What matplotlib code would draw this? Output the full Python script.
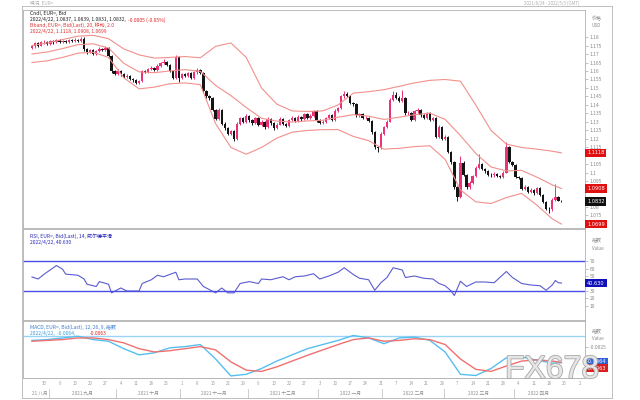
import numpy as np
import pandas as pd
import matplotlib
matplotlib.use("Agg")
import matplotlib.pyplot as plt
import matplotlib.patheffects as pe
from matplotlib.lines import Line2D

plt.rcParams["font.family"] = ["Noto Sans CJK SC", "DejaVu Sans"]

# EUR= daily candles, 2021/8/24 - 2022/4/22 (open = previous close)
first_open = 1.1738
close = [1.1745, 1.1762, 1.1750, 1.1768, 1.1772, 1.1760, 1.1775, 1.1768, 1.1780, 1.1772,
         1.1776, 1.1770, 1.1782, 1.1778, 1.1785, 1.1776, 1.1790, 1.1728, 1.1712, 1.1722,
         1.1700, 1.1716, 1.1732, 1.1725, 1.1738, 1.1690, 1.1598, 1.1585, 1.1602, 1.1580,
         1.1565, 1.1572, 1.1552, 1.1545, 1.1532, 1.1540, 1.1598, 1.1595, 1.1612, 1.1620,
         1.1605, 1.1632, 1.1645, 1.1652, 1.1636, 1.1600, 1.1560, 1.1682, 1.1558, 1.1580,
         1.1572, 1.1588, 1.1560, 1.1592, 1.1605, 1.1590, 1.1482, 1.1450, 1.1442, 1.1370,
         1.1318, 1.1372, 1.1290, 1.1265, 1.1232, 1.1245, 1.1200, 1.1290, 1.1322, 1.1300,
         1.1336, 1.1310, 1.1292, 1.1322, 1.1285, 1.1302, 1.1268, 1.1320, 1.1292, 1.1262,
         1.1285, 1.1320, 1.1290, 1.1275, 1.1312, 1.1326, 1.1305, 1.1332, 1.1315, 1.1346,
         1.1325, 1.1336, 1.1362, 1.1310, 1.1295, 1.1302, 1.1322, 1.1340, 1.1312, 1.1366,
         1.1382, 1.1450, 1.1466, 1.1455, 1.1412, 1.1405, 1.1340, 1.1346, 1.1322, 1.1326,
         1.1305, 1.1240, 1.1150, 1.1145, 1.1232, 1.1270, 1.1302, 1.1432, 1.1456, 1.1442,
         1.1426, 1.1442, 1.1350, 1.1352, 1.1312, 1.1362, 1.1372, 1.1340, 1.1322, 1.1352,
         1.1312, 1.1322, 1.1212, 1.1272, 1.1200, 1.1212, 1.1125, 1.1065, 1.0915, 1.0860,
         1.1060, 1.0990, 1.0915, 1.0942, 1.0982, 1.1030, 1.1052, 1.1022, 1.1010, 1.0990,
         1.0985, 1.0996, 1.0984, 1.0976, 1.1002, 1.1150, 1.1065, 1.1045, 1.0975, 1.0970,
         1.0905, 1.0920, 1.0888, 1.0902, 1.0880, 1.0912, 1.0872, 1.0830, 1.0790, 1.0785,
         1.0842, 1.0856, 1.0837, 1.0832]
high = [1.1755, 1.1770, 1.1768, 1.1775, 1.1780, 1.1778, 1.1782, 1.1780, 1.1788, 1.1786,
        1.1784, 1.1782, 1.1790, 1.1788, 1.1795, 1.1790, 1.1798, 1.1800, 1.1735, 1.1730,
        1.1728, 1.1722, 1.1740, 1.1738, 1.1745, 1.1742, 1.1695, 1.1606, 1.1610, 1.1608,
        1.1588, 1.1580, 1.1578, 1.1560, 1.1552, 1.1548, 1.1605, 1.1608, 1.1620, 1.1628,
        1.1626, 1.1640, 1.1655, 1.1668, 1.1660, 1.1640, 1.1606, 1.1692, 1.1686, 1.1590,
        1.1588, 1.1596, 1.1594, 1.1600, 1.1616, 1.1612, 1.1596, 1.1490, 1.1460, 1.1448,
        1.1378, 1.1382, 1.1378, 1.1298, 1.1272, 1.1255, 1.1250, 1.1298, 1.1330, 1.1332,
        1.1345, 1.1342, 1.1318, 1.1330, 1.1328, 1.1310, 1.1308, 1.1328, 1.1326, 1.1298,
        1.1292, 1.1328, 1.1326, 1.1296, 1.1320, 1.1335, 1.1332, 1.1340, 1.1338, 1.1355,
        1.1352, 1.1345, 1.1370, 1.1368, 1.1316, 1.1310, 1.1330, 1.1348, 1.1346, 1.1374,
        1.1390, 1.1460, 1.1484, 1.1475, 1.1460, 1.1420, 1.1410, 1.1355, 1.1352, 1.1335,
        1.1332, 1.1310, 1.1245, 1.1158, 1.1240, 1.1278, 1.1310, 1.1440, 1.1482, 1.1478,
        1.1450, 1.1490, 1.1448, 1.1362, 1.1358, 1.1370, 1.1380, 1.1378, 1.1348, 1.1360,
        1.1358, 1.1332, 1.1328, 1.1280, 1.1278, 1.1222, 1.1218, 1.1130, 1.1070, 1.0925,
        1.1100, 1.1068, 1.0996, 1.0950, 1.0990, 1.1040, 1.1112, 1.1060, 1.1030, 1.1018,
        1.0998, 1.1005, 1.1002, 1.0990, 1.1010, 1.1180, 1.1156, 1.1072, 1.1050, 1.0982,
        1.0976, 1.0928, 1.0926, 1.0910, 1.0908, 1.0920, 1.0918, 1.0878, 1.0836, 1.0798,
        1.0850, 1.0936, 1.0862, 1.0839]
low = [1.1728, 1.1738, 1.1742, 1.1745, 1.1760, 1.1752, 1.1755, 1.1760, 1.1762, 1.1765,
       1.1766, 1.1762, 1.1765, 1.1770, 1.1772, 1.1770, 1.1772, 1.1720, 1.1702, 1.1705,
       1.1692, 1.1694, 1.1710, 1.1718, 1.1720, 1.1682, 1.1590, 1.1575, 1.1578, 1.1570,
       1.1558, 1.1556, 1.1545, 1.1538, 1.1525, 1.1522, 1.1535, 1.1588, 1.1590, 1.1605,
       1.1598, 1.1600, 1.1625, 1.1640, 1.1628, 1.1592, 1.1552, 1.1555, 1.1535, 1.1550,
       1.1562, 1.1565, 1.1552, 1.1555, 1.1585, 1.1582, 1.1475, 1.1440, 1.1432, 1.1362,
       1.1310, 1.1312, 1.1282, 1.1255, 1.1225, 1.1222, 1.1186, 1.1195, 1.1282, 1.1292,
       1.1295, 1.1302, 1.1284, 1.1286, 1.1278, 1.1278, 1.1260, 1.1262, 1.1285, 1.1252,
       1.1256, 1.1280, 1.1284, 1.1268, 1.1270, 1.1305, 1.1298, 1.1300, 1.1308, 1.1310,
       1.1318, 1.1318, 1.1330, 1.1302, 1.1286, 1.1288, 1.1296, 1.1315, 1.1305, 1.1306,
       1.1360, 1.1376, 1.1442, 1.1446, 1.1405, 1.1396, 1.1332, 1.1330, 1.1315, 1.1315,
       1.1298, 1.1232, 1.1140, 1.1122, 1.1138, 1.1225, 1.1262, 1.1298, 1.1425, 1.1435,
       1.1418, 1.1420, 1.1342, 1.1340, 1.1305, 1.1306, 1.1355, 1.1332, 1.1315, 1.1316,
       1.1305, 1.1306, 1.1205, 1.1206, 1.1192, 1.1195, 1.1118, 1.1055, 1.0905, 1.0835,
       1.0855, 1.0982, 1.0905, 1.0908, 1.0936, 1.0975, 1.1025, 1.1015, 1.1002, 1.0982,
       1.0976, 1.0978, 1.0976, 1.0968, 1.0970, 1.0998, 1.1058, 1.1038, 1.0968, 1.0962,
       1.0898, 1.0898, 1.0880, 1.0880, 1.0872, 1.0875, 1.0865, 1.0822, 1.0780, 1.0762,
       1.0778, 1.0836, 1.0832, 1.0831]

# Bollinger band (20, 2.0) read at every 5th candle
bb_idx = [0, 5, 10, 15, 20, 25, 30, 35, 40, 45, 50, 55, 60, 65, 70, 75, 80, 85,
          90, 95, 100, 105, 110, 115, 120, 125, 130, 135, 140, 145, 150, 155, 160, 165, 170, 173]
bb_upper = [1.1750, 1.1765, 1.1785, 1.1805, 1.1810, 1.1790, 1.1730, 1.1695, 1.1676, 1.1680,
            1.1685, 1.1678, 1.1745, 1.1765, 1.1680, 1.1500, 1.1405, 1.1365, 1.1362, 1.1365,
            1.1400, 1.1470, 1.1478, 1.1490, 1.1510, 1.1530, 1.1545, 1.1550, 1.1540, 1.1400,
            1.1250, 1.1170, 1.1150, 1.1140, 1.1128, 1.1118]
bb_mid = [1.1700, 1.1712, 1.1732, 1.1755, 1.1760, 1.1735, 1.1645, 1.1595, 1.1590, 1.1600,
          1.1608, 1.1598, 1.1515, 1.1455, 1.1385, 1.1322, 1.1305, 1.1300, 1.1306, 1.1310,
          1.1328, 1.1343, 1.1334, 1.1315, 1.1328, 1.1343, 1.1352, 1.1315, 1.1220, 1.1115,
          1.1035, 1.1012, 1.1015, 1.0975, 1.0930, 1.0908]
bb_lower = [1.1650, 1.1660, 1.1680, 1.1705, 1.1710, 1.1680, 1.1560, 1.1495, 1.1505, 1.1525,
            1.1530, 1.1520, 1.1290, 1.1150, 1.1110, 1.1150, 1.1205, 1.1240, 1.1250, 1.1255,
            1.1255, 1.1215, 1.1190, 1.1140, 1.1145, 1.1155, 1.1160, 1.1080, 1.0900, 1.0830,
            1.0820, 1.0855, 1.0880, 1.0810, 1.0730, 1.0699]

# RSI (14)
rsi_idx = [0, 2, 4, 8, 10, 11, 15, 17, 18, 21, 22, 25, 26, 29, 31, 35, 36, 39, 41, 43,
           47, 48, 50, 54, 56, 60, 62, 64, 66, 68, 71, 74, 75, 78, 82, 84, 86, 89, 92, 94,
           97, 100, 102, 105, 107, 110, 112, 114, 116, 118, 121, 122, 125, 128, 131, 133,
           135, 137, 138, 140, 142, 145, 148, 151, 155, 157, 160, 163, 166, 168, 170, 171,
           172, 173]
rsi_val = [48.7, 46, 52.5, 64, 59, 52.5, 51, 46, 39, 36, 42.5, 39, 27.5, 34, 30, 30, 40, 45,
           51, 49, 55, 45, 46, 46, 36, 27.5, 34, 27.5, 27.5, 40, 42.5, 40, 46, 45, 49, 45,
           49, 50, 53, 46, 50, 55, 61, 52, 47, 45, 31, 41, 48, 61, 58, 48, 50, 47, 46, 40,
           37, 30, 24, 43, 36, 42, 42, 41, 56, 48, 40, 38, 37, 31, 38, 44, 41, 40.63]

# MACD (12, 26, 9), read at the same candles as the bands
macd_line = [-0.0010, -0.0008, -0.0004, 0.0000, -0.0008, -0.0012, -0.0030, -0.0045, -0.0040,
             -0.0028, -0.0025, -0.0020, -0.0055, -0.0096, -0.0092, -0.0078, -0.0060, -0.0045,
             -0.0030, -0.0020, -0.0010, 0.0002, -0.0004, -0.0018, -0.0004, -0.0002, -0.0010,
             -0.0038, -0.0092, -0.0095, -0.0078, -0.0052, -0.0050, -0.0058, -0.0065, -0.0064]
macd_signal = [-0.0012, -0.0010, -0.0008, -0.0004, -0.0004, -0.0008, -0.0016, -0.0030, -0.0038,
               -0.0035, -0.0030, -0.0025, -0.0033, -0.0062, -0.0082, -0.0085, -0.0074, -0.0060,
               -0.0046, -0.0033, -0.0020, -0.0008, -0.0004, -0.0012, -0.0010, -0.0006, -0.0008,
               -0.0020, -0.0055, -0.0080, -0.0085, -0.0072, -0.0060, -0.0057, -0.0060, -0.0063]

month_cn = ["一月", "二月", "三月", "四月", "五月", "六月", "七月", "八月", "九月", "十月", "十一月", "十二月"]

UP, DOWN = "#ea3278", "#141414"
BAND = "#f2908c"
GRAY = "#8a8a8a"

W, H = 640, 400
fig = plt.figure(figsize=(6.4, 4.0), dpi=100)


def box(x0, y0, x1, y1):
    return [x0 / W, 1 - y1 / H, (x1 - x0) / W, (y1 - y0) / H]


ax = fig.add_axes(box(23, 10, 585, 228))
ax_rsi = fig.add_axes(box(23, 229, 585, 320), sharex=ax)
ax_macd = fig.add_axes(box(23, 321, 585, 378), sharex=ax)

# candles
c = np.array(close)
o = np.array([first_open] + close[:-1])
x = np.arange(len(c))
cols = np.where(c >= o, UP, DOWN)
ax.vlines(x, low, high, colors=cols, lw=0.7)
ax.bar(x, np.maximum(np.abs(c - o), 0.0002), bottom=np.minimum(o, c), width=0.78,
       color=cols, lw=0)

for band in (bb_upper, bb_mid, bb_lower):
    ax.plot(bb_idx, band, color=BAND, lw=0.8)

ax.set_xlim(-2.94, 180.7)
ax.set_ylim(1.0676, 1.1959)

# RSI
ax_rsi.plot(rsi_idx, rsi_val, color="#5b5bd0", lw=0.8)
for lvl in (70, 30):
    ax_rsi.axhline(lvl, color="#4b4be6", lw=1.0)
ax_rsi.set_ylim(-8.7, 112.7)

# MACD
ax_macd.axhline(0, color="#9ad4f5", lw=1.0)
ax_macd.plot(bb_idx, macd_line, color="#55bff0", lw=1.0)
ax_macd.plot(bb_idx, macd_signal, color="#f07070", lw=1.0)
ax_macd.set_ylim(-0.0101, 0.0037)

for a in (ax, ax_rsi, ax_macd):
    a.yaxis.tick_right()
    a.tick_params(axis="y", labelsize=3.6, labelcolor=GRAY, color="#aaaaaa",
                  length=2, pad=1.5, width=0.5)
    for s in a.spines.values():
        s.set_color("#b0b0b0")
        s.set_linewidth(0.6)
    a.tick_params(axis="x", bottom=False, labelbottom=False)

# right-hand price scale
pticks = [1.075, 1.08, 1.095, 1.1, 1.105, 1.115, 1.12, 1.125, 1.13, 1.135, 1.14,
          1.145, 1.15, 1.155, 1.16, 1.165, 1.17, 1.175, 1.18]
ax.set_yticks(pticks)
ax.set_yticklabels([f"{v:g}" for v in pticks])


def tag(a, v, txt, fc):
    a.text(1.004, v, txt, transform=a.get_yaxis_transform(), fontsize=3.6, color="white",
           va="center", ha="left", family="DejaVu Sans",
           bbox=dict(boxstyle="square,pad=0.35", fc=fc, ec="none"))


tag(ax, bb_upper[-1], "1.1118", "#e01010")
tag(ax, bb_mid[-1], "1.0908", "#e01010")
tag(ax, bb_lower[-1], "1.0699", "#e01010")
tag(ax, close[-1], "1.0832", "#101010")
ax.text(1.012, 0.955, "价格", transform=ax.transAxes, fontsize=3.6, color=GRAY)
ax.text(1.012, 0.92, "USD", transform=ax.transAxes, fontsize=3.3, color=GRAY)

ax_rsi.set_yticks([10, 20, 30, 50, 60, 70])
tag(ax_rsi, rsi_val[-1], "40.630", "#1010b8")
ax_rsi.text(1.012, 0.86, "指数", transform=ax_rsi.transAxes, fontsize=3.6, color=GRAY)
ax_rsi.text(1.012, 0.77, "Value", transform=ax_rsi.transAxes, fontsize=3.3, color=GRAY)

ax_macd.set_yticks([-0.0025])
ax_macd.set_yticklabels(["-0.0025"])
tag(ax_macd, macd_line[-1] + 0.0002, "-0.0064", "#2f62d8")
tag(ax_macd, macd_signal[-1] - 0.0014, "-0.0063", "#d82020")
ax_macd.text(1.012, 0.80, "指数", transform=ax_macd.transAxes, fontsize=3.6, color=GRAY)
ax_macd.text(1.012, 0.67, "Value", transform=ax_macd.transAxes, fontsize=3.3, color=GRAY)

# legends
lg = dict(transform=ax.transAxes, fontsize=3.6, va="center", ha="left")
ax.text(0.013, 0.982, "Cndl, EUR=, Bid", color="#202020", **lg)
ax.text(0.013, 0.955, "2022/4/22, 1.0837, 1.0839, 1.0831, 1.0832,", color="#202020", **lg)
ax.text(0.187, 0.955, "-0.0005 (-0.05%)", color="#e02020", **lg)
ax.text(0.013, 0.928, "Bband, EUR=, Bid(Last), 20, 移动, 2.0", color="#e03030", **lg)
ax.text(0.013, 0.901, "2022/4/22, 1.1118, 1.0908, 1.0699", color="#e03030", **lg)

lr = dict(transform=ax_rsi.transAxes, fontsize=3.6, va="center", ha="left", color="#2828b8")
ax_rsi.text(0.013, 0.92, "RSI, EUR=, Bid(Last), 14, 威尔德平滑", **lr)
ax_rsi.text(0.013, 0.855, "2022/4/22, 40.630", **lr)

lm = dict(transform=ax_macd.transAxes, fontsize=3.6, va="center", ha="left")
ax_macd.text(0.013, 0.89, "MACD, EUR=, Bid(Last), 12, 26, 9, 指数", color="#3b7fd0", **lm)
ax_macd.text(0.013, 0.78, "2022/4/22,  -0.0064,", color="#3b9be0", **lm)
ax_macd.text(0.118, 0.78, "-0.0063", color="#e02020", **lm)

# date axis: week numbers and month names
dates = pd.bdate_range("2021-08-24", periods=181)
mondays = [i for i, d in enumerate(dates) if d.weekday() == 0]
xtr = ax_macd.get_xaxis_transform()
for i in mondays:
    ax_macd.text(i, -0.1, str(dates[i].day), transform=xtr, fontsize=3.2, color="#a0a0a0",
                 ha="center", va="center")
ser = pd.Series(np.arange(len(close)), index=dates[:len(close)])
for (yr, mo), grp in ser.groupby([ser.index.year, ser.index.month]):
    mid = grp.mean()
    label = f"{yr} {month_cn[mo - 1]}" if len(grp) > 10 else f"{str(yr)[2:]} {month_cn[mo - 1]}"
    ax_macd.text(mid, -0.27, label, transform=xtr, fontsize=3.4, color="#909090",
                 ha="center", va="center")
    if grp.iloc[0] > 0:
        ax_macd.plot([grp.iloc[0] - 0.5] * 2, [-0.19, -0.35], transform=xtr, color="#b8b8b8",
                     lw=0.5, clip_on=False)

# outer frame
for xs, ys in [((22, 22), (6, 398)), ((612, 612), (6, 398)), ((22, 612), (6, 6)),
               ((22, 612), (398, 398)), ((23, 585), (378, 378))]:
    fig.add_artist(Line2D([v / W for v in xs], [1 - v / H for v in ys], color="#b5b5b5", lw=0.6))
fig.text(30 / W, 1 - 3 / H, "概况  EUR=", fontsize=3.4, color="#b0b0b0", va="center")
fig.text(580 / W, 1 - 3 / H, "2021/8/24 - 2022/5/3 (GMT)", fontsize=3.2, color="#b0b0b0",
         va="center", ha="right")

# watermark
fig.text(505 / W, 1 - 370 / H, "FX678", fontsize=23, color="#e6e6e6", va="center", ha="left",
         family=["Liberation Sans", "DejaVu Sans"],
         path_effects=[pe.withStroke(linewidth=1.2, foreground="#a8a8a8")])

fig.savefig("out.png", dpi=100, facecolor="white")
